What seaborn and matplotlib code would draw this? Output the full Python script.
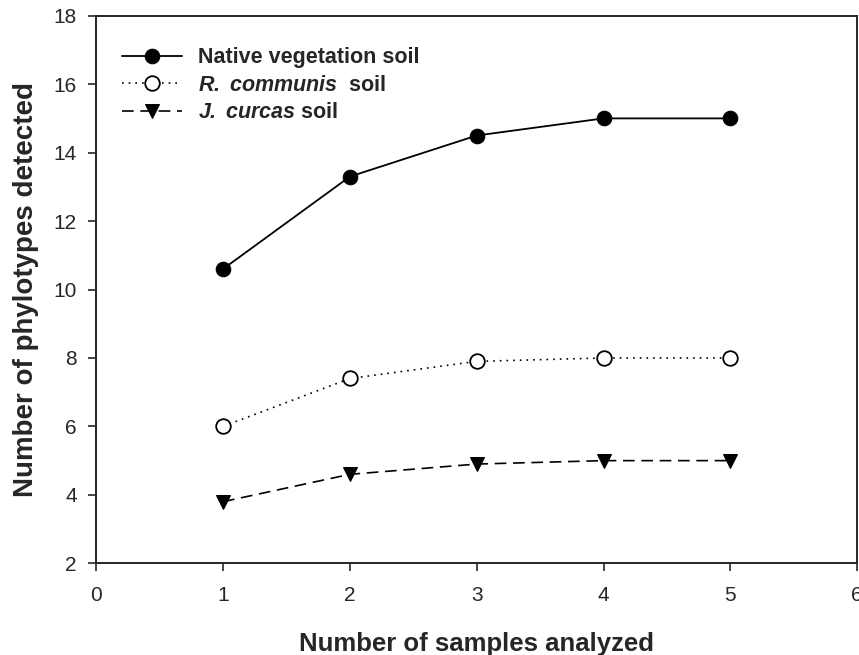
import numpy as np
import pandas as pd
import matplotlib
matplotlib.use('Agg')
import matplotlib.pyplot as plt
import seaborn as sns

# samples analyzed
samples = [1, 2, 3, 4, 5]

# phylotypes detected per soil
native_soil = [10.6, 13.3, 14.5, 15.0, 15.0]
ricinus_soil = [6.0, 7.4, 7.9, 8.0, 8.0]
jatropha_soil = [3.8, 4.6, 4.9, 5.0, 5.0]

x_ticks = [0, 1, 2, 3, 4, 5, 6]
y_ticks = [2, 4, 6, 8, 10, 12, 14, 16, 18]

sns.set_style('ticks')
plt.rcParams['font.family'] = ['Liberation Sans', 'DejaVu Sans']
plt.rcParams['mathtext.fontset'] = 'custom'
plt.rcParams['mathtext.bfit'] = 'Liberation Sans:italic:bold'
plt.rcParams['mathtext.it'] = 'Liberation Sans:italic'
plt.rcParams['mathtext.rm'] = 'Liberation Sans'

fig = plt.figure(figsize=(8.59, 6.55), dpi=100)
ax = fig.add_axes([0.112, 0.140, 0.886, 0.836])

sns.lineplot(x=samples, y=native_soil, ax=ax, color='black', linestyle='-',
             linewidth=1.3, marker='o', markersize=10.5, markerfacecolor='black',
             markeredgecolor='black', label='Native vegetation soil')
sns.lineplot(x=samples, y=ricinus_soil, ax=ax, color='black', linestyle=(0, (1, 3)),
             linewidth=1.2, marker='o', markersize=10.5, markerfacecolor='white',
             markeredgecolor='black', markeredgewidth=1.3,
             label=r'$\mathbfit{R.}$ $\mathbfit{communis}$  soil')
sns.lineplot(x=samples, y=jatropha_soil, ax=ax, color='black', linestyle=(0, (7, 4)),
             linewidth=1.2, marker='v', markersize=10.5, markerfacecolor='black',
             markeredgecolor='black', label=r'$\mathbfit{J.}$ $\mathbfit{curcas}$ soil')

ax.set_xlim(0, 6)
ax.set_ylim(2, 18)
ax.set_xticks(x_ticks)
ax.set_yticks(y_ticks)
ax.tick_params(direction='out', length=6, width=1.2, labelsize=15,
               top=False, right=False)
ax.tick_params(axis='x', pad=10)
ax.tick_params(axis='y', pad=8)
for s in ax.spines.values():
    s.set_linewidth(1.4)
    s.set_visible(True)

ax.set_xlabel('Number of samples analyzed', fontsize=18.5, fontweight='bold', labelpad=20)
ax.set_ylabel('Number of phylotypes detected', fontsize=20, fontweight='bold', labelpad=10)

leg = ax.legend(loc='upper left', bbox_to_anchor=(0.008, 0.978), frameon=False,
                prop={'weight': 'bold', 'size': 15.5}, handlelength=2.8,
                handletextpad=0.75, labelspacing=0.3)

fig.savefig('out.png', dpi=100)
